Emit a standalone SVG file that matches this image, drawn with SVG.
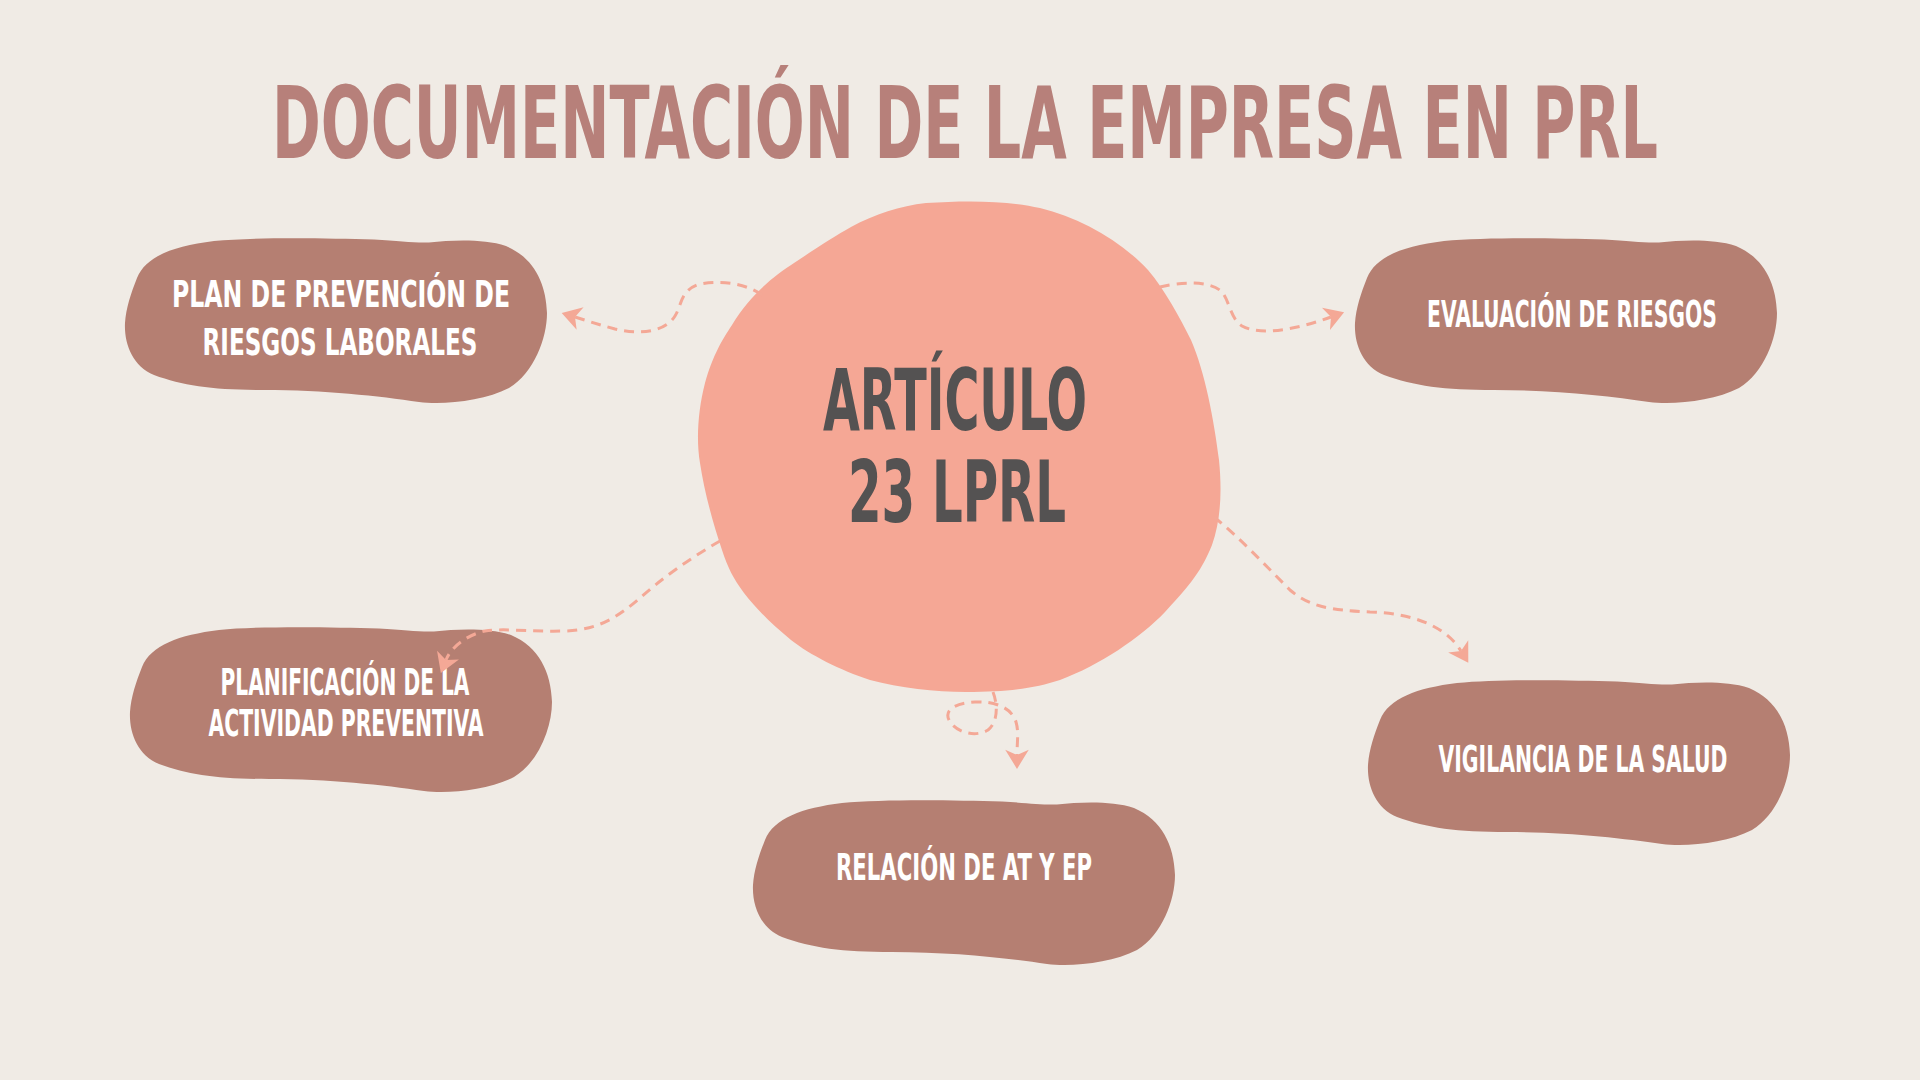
<svg xmlns="http://www.w3.org/2000/svg" xmlns:xlink="http://www.w3.org/1999/xlink" width="1920" height="1080" viewBox="0 0 1920 1080">
<style>
.bg{fill:#f0ebe5}
.blob{fill:#b57f72}
.center{fill:#f5a795}
.title{font-family:"Liberation Sans Narrow","DejaVu Sans Condensed","Liberation Sans",sans-serif;font-weight:700;fill:#b7807a;text-anchor:middle}
.ctext{font-family:"Liberation Sans Narrow","DejaVu Sans Condensed","Liberation Sans",sans-serif;font-weight:700;fill:#545252;text-anchor:middle;font-size:86px}
.ntext{font-family:"Liberation Sans Narrow","DejaVu Sans Condensed","Liberation Sans",sans-serif;font-weight:700;fill:#ffffff;text-anchor:middle;font-size:37px}
.conn{fill:none;stroke:#f4a896;stroke-width:3;stroke-dasharray:10 7;marker-end:url(#arr)}
</style>
<defs>
<path id="nblob" d="M 13,40 C 22,18 50,8 90,3 C 130,-1 200,0 250,1.5 C 275,3 290,5 305,4.5 C 330,2 360,1 382,8 C 410,20 422,45 423,75 C 423,100 410,135 385,150 C 360,163 320,167 295,164 C 255,158 200,152 140,152 C 90,152 60,148 30,137 C 8,128 0,105 1,85 C 2,70 7,55 13,40 Z"/>
<marker id="arr" markerUnits="userSpaceOnUse" markerWidth="30" markerHeight="30" viewBox="-2 -14 24 28" refX="5" refY="0" orient="auto">
<path d="M 18,0 L 0,-11 L 5,0 L 0,11 Z" fill="#f4a896"/>
</marker>
</defs>
<rect class="bg" x="0" y="0" width="1920" height="1080"/>
<text class="title" transform="translate(965,158) scale(1,1.52)" x="0" y="0" font-size="66" textLength="1386" lengthAdjust="spacingAndGlyphs">DOCUMENTACIÓN DE LA EMPRESA EN PRL</text>
<g id="center">
<path class="center" d="M 926,203 C 970,200 1010,201 1040,208 C 1080,218 1120,240 1148,270 C 1165,290 1180,318 1191,340 C 1205,372 1214,420 1219,460 C 1222,490 1221,520 1212,545 C 1200,575 1185,590 1165,612 C 1140,638 1100,665 1060,680 C 1035,688 1010,692 966,692 C 935,692 900,688 870,680 C 840,670 810,655 791,640 C 770,623 755,607 744,593 C 733,578 728,568 722,550 C 712,520 704,490 700,463 C 696,440 698,410 705,383 C 713,355 722,340 732,325 C 750,295 775,275 794,263 C 815,249 835,236 851,227 C 875,214 900,206 926,203 Z"/>
<text class="ctext" x="955" y="430" textLength="264" lengthAdjust="spacingAndGlyphs">ARTÍCULO</text>
<text class="ctext" x="957" y="522" textLength="218" lengthAdjust="spacingAndGlyphs">23 LPRL</text>
</g>
<g id="node-plan">
<use xlink:href="#nblob" class="blob" transform="translate(124,238)"/>
<text class="ntext" x="341" y="307" textLength="338" lengthAdjust="spacingAndGlyphs">PLAN DE PREVENCIÓN DE</text>
<text class="ntext" x="340" y="355" textLength="275" lengthAdjust="spacingAndGlyphs">RIESGOS LABORALES</text>
</g>
<g id="node-evaluacion">
<use xlink:href="#nblob" class="blob" transform="translate(1354,238)"/>
<text class="ntext" x="1572" y="327" textLength="290" lengthAdjust="spacingAndGlyphs">EVALUACIÓN DE RIESGOS</text>
</g>
<g id="node-planificacion">
<use xlink:href="#nblob" class="blob" transform="translate(129,627)"/>
<text class="ntext" x="345" y="695" textLength="249" lengthAdjust="spacingAndGlyphs">PLANIFICACIÓN DE LA</text>
<text class="ntext" x="346" y="736" textLength="275" lengthAdjust="spacingAndGlyphs">ACTIVIDAD PREVENTIVA</text>
</g>
<g id="node-relacion">
<use xlink:href="#nblob" class="blob" transform="translate(752,800)"/>
<text class="ntext" x="964" y="880" textLength="256" lengthAdjust="spacingAndGlyphs">RELACIÓN DE AT Y EP</text>
</g>
<g id="node-vigilancia">
<use xlink:href="#nblob" class="blob" transform="translate(1367,680)"/>
<text class="ntext" x="1583" y="772" textLength="289" lengthAdjust="spacingAndGlyphs">VIGILANCIA DE LA SALUD</text>
</g>
<g id="connectors">
<path class="conn" d="M 762,295 C 745,283 720,280 700,284 C 680,290 682,305 675,316 C 665,332 640,335 615,329 C 600,325 588,321 575,317"/>
<path class="conn" d="M 1160,287 C 1180,282 1210,280 1222,292 C 1230,302 1230,318 1242,326 C 1260,336 1295,330 1331,317"/>
<path class="conn" d="M 720,541 C 690,558 660,580 640,598 C 620,615 600,630 565,631 C 530,632 505,628 485,631 C 470,634 452,645 446,660"/>
<path class="conn" d="M 993,692 C 998,705 998,722 988,730 C 975,738 955,732 949,720 C 944,710 955,703 975,702 C 995,701 1012,708 1016,722 C 1019,732 1017,742 1017,755"/>
<path class="conn" d="M 1214,517 C 1240,538 1265,565 1290,590 C 1310,607 1330,610 1370,612 C 1410,613 1445,625 1461,651"/>
</g>
</svg>
